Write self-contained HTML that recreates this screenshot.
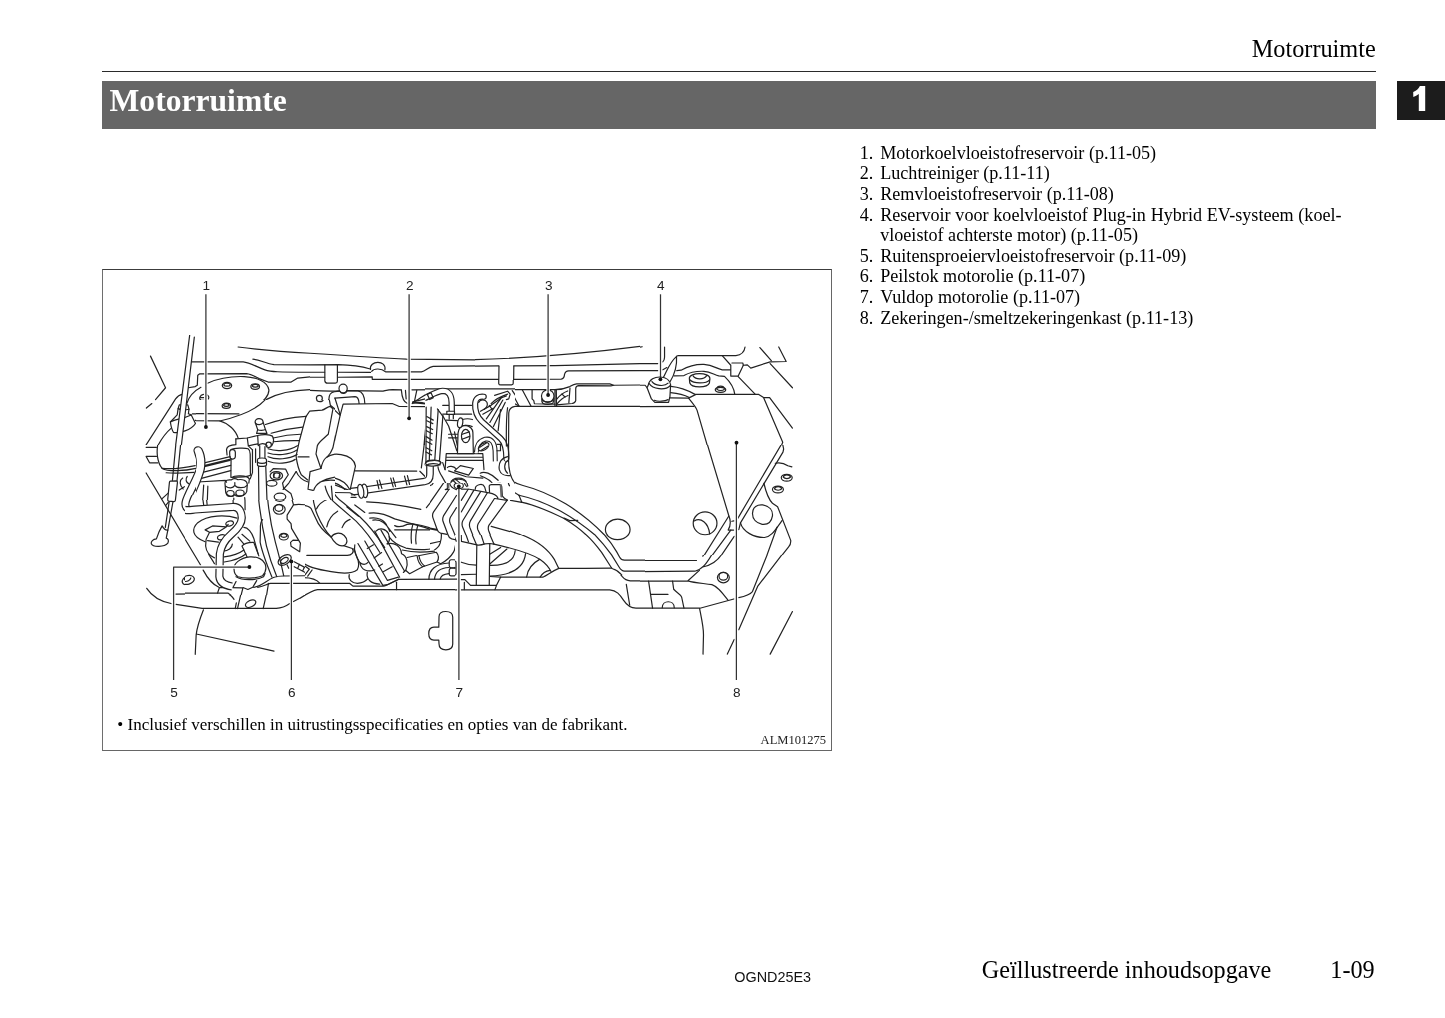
<!DOCTYPE html>
<html lang="nl">
<head>
<meta charset="utf-8">
<title>Motorruimte</title>
<style>
html,body{margin:0;padding:0;background:#fff;}
body{will-change:transform;width:1445px;height:1018px;position:relative;overflow:hidden;font-family:"Liberation Serif",serif;color:#000;}
.abs{position:absolute;white-space:nowrap;line-height:1;}
#hdr{right:69.2px;top:36.6px;font-size:24.3px;}
#rule{left:102px;top:70.7px;width:1274px;height:1.3px;background:#2a2a2a;}
#bar{left:102px;top:81px;width:1274px;height:48px;background:#666;}
#title{left:109.5px;top:85.3px;font-size:31.62px;font-weight:bold;color:#fff;}
#tab{left:1396.6px;top:81.1px;width:48.4px;height:39.1px;background:#1c1c1c;}
#tabn{left:1409.5px;top:82.2px;font-family:"Liberation Sans",sans-serif;font-weight:bold;font-size:34px;color:#fff;}
.li{font-size:18.13px;left:859.8px;}
.li .n{display:inline-block;width:20.4px;box-sizing:border-box;}
#fig{left:102px;top:268.85px;width:730px;height:482.35px;box-sizing:border-box;border-style:solid;border-color:#3c3c3c #666 #666 #6e6e6e;border-width:1.35px 1.35px 1.4px 1.8px;}
.cn{font-family:"Liberation Sans",sans-serif;font-size:12.6px;color:#222;}
#note{left:117.3px;top:715.9px;font-size:17px;}
#alm{left:760.6px;top:734.3px;font-size:12.55px;color:#222;}
#code{left:734.3px;top:970.2px;font-family:"Liberation Sans",sans-serif;font-size:14.4px;color:#111;}
#ft1{left:981.8px;top:958.1px;font-size:24.2px;}
#ft2{left:1330.3px;top:958.1px;font-size:24.2px;}
#art{position:absolute;left:0;top:0;}
</style>
</head>
<body>
<div class="abs" id="hdr">Motorruimte</div>
<div class="abs" id="rule"></div>
<div class="abs" id="bar"></div>
<div class="abs" id="title">Motorruimte</div>
<div class="abs" id="tab"></div>
<svg class="abs" style="left:1397px;top:81px" width="48" height="39" viewBox="1397 81 48 39"><path d="M1425.2,86 L1425.2,110.9 L1418.8,110.9 L1418.8,94.1 C1417,95.3 1415.3,96.3 1413.3,97 L1413.2,92.1 C1416,90.9 1418.6,88.8 1419.9,86 Z" fill="#fff"/></svg>

<div class="abs li" style="top:143.7px"><span class="n">1.</span>Motorkoelvloeistofreservoir (p.11-05)</div>
<div class="abs li" style="top:164.3px"><span class="n">2.</span>Luchtreiniger (p.11-11)</div>
<div class="abs li" style="top:184.9px"><span class="n">3.</span>Remvloeistofreservoir (p.11-08)</div>
<div class="abs li" style="top:205.6px;width:481.8px;"><span class="n">4.</span><span style="display:inline-block;width:461.4px;text-align:justify;text-align-last:justify;white-space:normal;">Reservoir voor koelvloeistof Plug-in Hybrid EV-systeem (koel-</span></div>
<div class="abs li" style="top:226.2px"><span class="n"></span>vloeistof achterste motor) (p.11-05)</div>
<div class="abs li" style="top:246.8px"><span class="n">5.</span>Ruitensproeiervloeistofreservoir (p.11-09)</div>
<div class="abs li" style="top:267.4px"><span class="n">6.</span>Peilstok motorolie (p.11-07)</div>
<div class="abs li" style="top:288.0px"><span class="n">7.</span>Vuldop motorolie (p.11-07)</div>
<div class="abs li" style="top:308.7px"><span class="n">8.</span>Zekeringen-/smeltzekeringenkast (p.11-13)</div>

<div class="abs" id="fig"></div>
<svg id="art" width="1445" height="1018" viewBox="0 0 1445 1018">
<style>#art path,#art ellipse,#art circle,#art line,#art polyline,#art rect{fill:none;stroke:#222;stroke-width:1.2px;vector-effect:non-scaling-stroke;stroke-linecap:round;stroke-linejoin:round}#art .w{fill:#fff}#art .k{fill:#111;stroke:none}#art .ld{stroke:#333;stroke-width:1.25px;stroke-linecap:butt}#art .halo line,#art .halo polyline{stroke:#fff;stroke-width:3.4px;stroke-linecap:butt}</style>
<svg x="145" y="335" width="165" height="110" viewBox="0 0 1445 963.33" overflow="hidden">
<!-- hood edge + cowl lines -->
<path d="M815,105 C1000,130 1250,150 1445,160"/>
<path d="M410,235 L860,235 C920,240 980,282 1050,305 C1100,322 1160,326 1445,326"/>
<path d="M945,212 C1000,215 1060,250 1130,260 L1445,262"/>
<path d="M378,462 L440,452 L458,440 L462,352 L480,340 L890,338 C930,342 960,362 1000,382 L1078,412 L1280,412 L1338,377 L1445,367"/>
<!-- plate ellipse -->
<path d="M548,422 C640,380 760,360 870,364 C980,370 1075,410 1085,480 C1088,540 1020,600 930,655 C860,695 760,725 650,752"/>
<path d="M490,458 C430,490 385,540 366,600"/>
<path d="M1445,478 C1300,482 1170,505 1060,566"/>
<path d="M415,690 L820,690 L880,680"/>
<path d="M440,748 L650,752 C720,772 795,830 812,905"/>
<!-- bolts -->
<ellipse cx="718" cy="442" rx="41" ry="27"/><path d="M690,438 C692,415 745,415 747,438 C740,452 697,452 690,438"/>
<ellipse cx="965" cy="452" rx="38" ry="25"/><path d="M940,448 C942,428 990,428 992,448 C985,460 947,460 940,448"/>
<ellipse cx="712" cy="620" rx="38" ry="25"/><path d="M686,616 C688,596 737,596 739,616 C732,628 693,628 686,616"/>
<path d="M512,520 C480,525 470,560 490,572 L520,572 M545,525 C560,535 562,550 555,560 M490,548 L515,548"/>
<!-- left "<" -->
<path d="M48,185 L180,462 L92,566"/><path d="M60,600 L12,640"/>
<!-- fender lines -->
<path d="M5,970 L268,560 C285,535 310,522 330,518"/>
<path d="M112,970 C150,900 190,850 228,818"/>
<!-- rod holder cup -->
<path class="w" d="M222,762 C228,800 236,835 250,852 C300,862 405,835 442,775 L405,700 L380,690 L385,650 L375,612 L300,612 L290,645 L282,700 Z"/>
<path d="M222,762 C260,740 330,735 405,700"/>
<path d="M290,645 C310,655 360,655 385,650"/>
<!-- prop rod -->
<path class="w" d="M392,-5 L432,15 L318,970 L268,970 Z" style="stroke:none"/>
<path d="M392,-5 L268,970"/><path d="M432,18 L318,970"/>
<!-- hose fitting -->
<path d="M1052,790 C1150,742 1300,716 1405,712"/>
<path d="M1090,862 C1200,822 1300,806 1385,800"/>
<path d="M1120,922 C1200,892 1300,876 1370,870"/>
<path d="M1140,962 C1200,946 1300,936 1352,932"/>
<path class="w" d="M968,760 C960,720 1030,715 1035,755 L1040,815 L1062,830 L1066,870 L975,880 L972,845 L985,830 Z"/>
<path d="M970,770 C985,790 1025,788 1036,765"/>
<path d="M985,830 C1000,840 1040,838 1062,830"/>
<path d="M1445,662 L1425,682 L1335,970"/>
<path d="M805,907 L900,893 L975,880 M1066,870 L1110,872 L1150,963 M900,893 L905,970 M985,900 L985,970 M985,900 L1100,890"/>
<path d="M740,963 L790,930 L812,905"/>
</svg>
<svg x="310" y="335" width="165" height="110" viewBox="0 0 1445 963.33" overflow="hidden">
<path d="M0,160 C300,180 600,200 845,212 L1445,218"/>
<path d="M0,262 L250,260 C350,262 450,275 528,298"/>
<path d="M530,302 C515,222 672,215 656,305"/>
<path d="M540,318 C560,290 625,290 662,323 L975,323 C1020,312 1030,282 1078,275 L1445,270"/>
<path d="M0,326 L128,326 M242,326 L530,328"/>
<path d="M0,370 L128,370 M242,370 L545,366 L545,388 L1445,388"/>
<path d="M130,262 L130,402 C132,418 140,422 152,422 L222,422 C235,420 240,415 240,402 L240,262"/>
<!-- line under cowl -->
<path d="M0,485 C100,492 180,495 258,490 M328,488 L640,492 C670,485 690,478 720,478 L800,481"/>
<path d="M800,483 C805,540 815,585 850,598 M836,485 L842,560"/>
<path d="M893,480 L1445,476"/>
<path d="M935,485 L915,582"/>
<circle cx="82" cy="555" r="26"/>
<!-- knob -->
<ellipse class="w" cx="290" cy="468" rx="36" ry="38"/>
<path d="M262,492 C275,520 315,520 325,485"/>
<!-- bracket -->
<path d="M165,565 C165,520 185,500 215,497 L258,492 M326,490 L420,490 C455,495 478,530 480,600"/>
<path d="M218,552 L395,540 C420,542 428,560 430,600"/>
<path d="M165,565 L178,622 L262,702 M218,552 L265,700"/>
<!-- air box top -->
<path d="M205,970 L265,700 L290,606 L720,600 L782,626 L1030,628 L998,970"/>
<path d="M0,665 C60,665 110,655 150,632 L185,625"/>
<path d="M205,645 L160,860 C150,900 110,935 68,965"/>
<!-- hose inverted U -->
<path class="w" d="M898,592 C960,560 1030,500 1100,480 C1180,455 1245,480 1262,560 L1268,665 L1216,665 L1205,575 C1195,520 1160,510 1120,520 C1080,540 1050,580 1032,605 Z"/>
<path d="M1020,520 L1042,562 L1085,540 L1060,500 Z"/>
<path d="M900,585 L1010,560"/>
<path d="M895,600 C950,580 1000,585 1060,622"/>
<!-- ribs of air box side -->
<path d="M1035,640 L1002,970 M1078,632 L1052,970 M1108,530 L1108,970 M1150,640 L1150,970 M1175,610 L1175,640"/>
<path d="M1035,700 L1078,722 M1032,735 L1075,757 M1025,800 L1068,822 M1022,835 L1064,857 M1015,895 L1058,917 M1012,930 L1054,952"/>
<path d="M1130,640 L1445,620 M1270,640 L1445,640"/>
<!-- clamp -->
<path d="M1195,668 L1275,664 L1275,690 L1195,694 Z"/>
<path d="M1216,694 L1216,740 M1255,692 L1258,735"/>
<!-- right fittings -->
<path d="M1130,640 C1180,720 1230,800 1260,880 L1290,963"/>
<path d="M1195,740 L1290,735 L1300,790 M1195,740 L1215,800"/>
<path d="M1300,790 C1290,730 1330,715 1345,730 L1340,790"/>
<path d="M1345,745 L1445,748"/>
<ellipse cx="1370" cy="880" rx="58" ry="85" transform="rotate(8 1370 880)"/>
<ellipse cx="1365" cy="885" rx="35" ry="60" transform="rotate(8 1365 885)"/>
<path d="M1335,870 L1395,835 M1335,910 L1395,878"/>
<path d="M1300,800 C1290,850 1290,900 1300,963 M1215,870 L1290,870 M1215,900 L1285,900 M1215,800 L1235,963"/>
<path d="M1445,540 C1420,560 1415,640 1445,660"/>
<path d="M1445,715 C1430,720 1428,740 1445,745"/>
</svg>
<svg x="475" y="335" width="165" height="110" viewBox="0 0 1445 963.33" overflow="hidden">
<path d="M0,215 C400,205 900,170 1445,100"/>
<path d="M0,272 L208,271 M340,271 L700,268 L1445,250"/>
<path d="M0,388 L206,388 M340,388 L755,386 C778,384 782,372 784,345 C790,322 800,315 820,314 L1445,312"/>
<path d="M210,272 L208,418 C210,432 216,438 228,438 L318,438 C332,436 338,430 338,418 L340,272"/>
<path d="M0,478 L700,478 C760,478 800,465 830,452 C850,440 865,430 890,428 L1180,428 L1215,440 L1190,446 L905,443 C888,446 882,455 882,470 L882,575 C878,592 865,598 850,600 L712,612"/>
<path d="M1215,440 L1445,438"/>
<path d="M832,465 L822,592"/>
<!-- big cover -->
<path d="M298,970 L295,672 C298,640 315,626 345,625 L1445,625"/>
<path d="M283,650 L288,970"/>
<!-- brake reservoir -->
<path d="M500,480 L500,560 L515,575 L520,602 L700,606"/>
<path d="M700,480 L700,622 M712,480 L714,622"/>
<circle cx="637" cy="535" r="55"/>
<path d="M585,560 C580,600 600,608 640,608 C680,608 695,595 690,555"/>
<path d="M592,575 C610,590 670,590 685,572"/>
<path d="M310,480 L385,622 M415,482 L490,622"/>
<path d="M716,562 C740,530 770,505 812,490 M720,602 C745,570 775,545 815,530 M760,515 L790,545"/>
<!-- left wiring cluster -->
<path d="M12,535 C10,520 20,514 35,514 L70,514 C82,518 82,535 70,542 L40,548 C28,552 24,560 25,575 C22,630 32,680 60,710 L215,862 L292,935"/>
<path d="M0,765 L190,965"/>
<path d="M60,575 C90,560 110,585 100,620 L45,665"/>
<path d="M175,535 C170,520 180,512 200,508 L285,493 C300,495 305,505 305,520 L308,545 L290,562"/>
<path d="M200,535 L270,515 M215,560 L285,530 M130,605 L240,545 M150,628 L255,565"/>
<path d="M60,665 L150,610 M75,690 L165,632 M100,715 L135,690"/>
<path d="M120,745 L235,565 M150,780 L252,585 M180,815 L268,600 M215,862 L232,640"/>
<path d="M255,640 C240,680 260,720 285,740"/>
<path d="M245,590 L345,600 L385,622"/>
<path d="M0,855 C40,850 70,870 100,900 M0,905 C30,900 60,915 80,945"/>
<path d="M30,965 C60,920 120,900 160,925 L185,965"/>
<path d="M85,940 L120,935 M100,920 L105,963"/>
</svg>
<svg x="640" y="335" width="165" height="110" viewBox="0 0 1445 963.33" overflow="hidden">
<path d="M0,106 L20,103"/>
<path d="M215,105 L215,195 C214,215 210,228 200,235"/>
<path d="M0,250 L155,250 M0,312 L155,312"/>
<path d="M200,380 C232,330 250,250 320,187 C325,260 300,350 262,412"/>
<path d="M200,305 L235,285"/>
<path d="M320,186 L335,180 L840,180 C890,175 915,140 920,105"/>
<path d="M720,180 L795,265 L795,360 L860,360 L905,265 L940,262 L970,290 L1140,235 L1280,232 L1215,105"/>
<path d="M805,245 L900,245 L905,265"/>
<path d="M1050,110 L1150,225 M1140,250 L1335,462"/>
<path d="M322,312 L360,308 C420,275 480,255 560,258 C640,262 680,300 720,305 L792,305"/>
<path d="M300,358 L385,355 C430,330 480,315 560,318 C620,322 650,350 690,358 L740,362 C790,410 825,470 830,520"/>
<!-- mount cylinder -->
<path class="w" d="M432,380 C432,325 610,325 612,380 L608,420 C590,465 450,465 436,420 Z"/>
<path d="M436,392 C470,428 580,428 610,392"/>
<path d="M465,358 C490,395 560,392 584,356"/>
<!-- bolt -->
<ellipse cx="705" cy="480" rx="46" ry="22"/>
<path d="M672,474 C675,440 735,440 740,474 C725,490 690,490 672,474"/>
<!-- reservoir cap 4 -->
<path d="M0,440 L45,440 L62,462"/>
<path class="w" d="M72,440 C80,390 130,365 180,368 C230,372 262,400 268,435 L262,540 L250,590 L130,590 L100,560 L62,462 Z"/>
<path d="M80,425 C110,475 220,490 266,442"/>
<path d="M105,408 C130,445 215,455 246,422"/>
<path d="M125,572 C160,586 220,580 246,566"/>
<path d="M270,450 C330,455 420,485 482,520"/>
<path d="M268,505 C330,510 390,525 432,548"/>
<path d="M262,550 L425,553"/>
<!-- fuse box -->
<path d="M0,628 L470,625"/>
<path d="M590,970 L500,660 C490,630 460,595 425,553 L490,520 L1040,520 L1082,548 L1250,940 L1238,970"/>
<path d="M1085,548 L1135,548 L1335,815"/>
<path d="M860,365 L1010,520"/>
</svg>
<svg x="145" y="445" width="165" height="110" viewBox="0 0 1445 963.33" overflow="hidden">
<!-- fender diagonal -->
<path d="M10,245 L440,970"/>
<path d="M150,470 L215,410 M180,530 L205,500"/>
<!-- reservoir bottom + bracket -->
<path d="M10,20 L100,20 M10,100 L100,100 M10,100 L40,156 L112,156"/>
<path d="M112,-5 C100,60 105,150 150,205 C200,235 350,228 445,205"/>
<path d="M150,205 C250,212 350,200 440,180"/>
<path d="M185,243 C260,250 350,245 430,240"/>
<!-- diagonal bracket lines behind -->
<path d="M520,172 L742,108 M490,300 L750,222 M505,258 L745,192"/>
<path d="M520,205 L745,140" style="stroke-width:2.2px"/>
<path d="M400,330 C500,300 600,295 705,300 M430,402 C480,362 600,337 700,337"/>
<path d="M330,290 C300,310 300,350 335,385 M370,275 C350,300 360,330 385,340 M300,395 L345,365"/>
<path d="M520,370 L505,528 M560,365 C540,420 540,480 560,525 M770,450 L770,522 M880,440 L880,565"/>
<!-- pump body lower -->
<path d="M800,625 C650,610 500,640 430,720 C400,780 430,830 520,862"/>
<path d="M530,745 L600,710 L700,715 L740,690 M530,745 L560,772 L660,760 L700,715 M560,772 L545,830 L530,900 L560,965 M660,760 L720,800"/>
<ellipse cx="742" cy="688" rx="38" ry="22" transform="rotate(-20 742 688)"/>
<ellipse cx="668" cy="800" rx="38" ry="22" transform="rotate(-25 668 800)"/>
<path d="M540,860 C560,900 600,930 640,940 M700,930 C740,920 760,890 750,860"/>
<path d="M860,730 C900,720 940,760 950,830 M820,800 L900,880 M850,770 L940,850 M850,890 L940,840 L1000,965 M850,890 L880,965 M760,965 L860,930"/>
<!-- S hose -->
<path d="M462,48 C480,90 490,130 488,190 C480,260 370,440 358,500 C350,540 365,562 420,562 L770,560 C820,560 845,590 845,650 C845,720 780,780 720,840 C680,880 660,920 655,970" style="stroke-width:8.6px;stroke-linecap:round"/>
<path d="M462,48 C480,90 490,130 488,190 C480,260 370,440 358,500 C350,540 365,562 420,562 L770,560 C820,560 845,590 845,650 C845,720 780,780 720,840 C680,880 660,920 655,980" style="stroke:#fff;stroke-width:6.2px;stroke-linecap:round"/>
<!-- cylinder component -->
<path class="w" d="M748,70 C748,40 765,30 790,30 L890,30 C915,32 928,45 928,70 L925,270 C900,290 790,290 760,268 Z"/>
<path class="w" d="M738,60 C738,42 748,38 765,38 C782,38 790,45 790,60 L790,105 C788,120 780,124 765,124 C748,124 740,118 738,105 Z"/>
<path d="M760,268 C740,275 722,290 720,300 M925,270 C935,290 925,310 905,325"/>
<path class="w" d="M700,335 C700,310 730,300 760,305 C780,295 800,295 820,305 C860,298 900,310 900,345 L895,400 C880,445 800,455 780,430 C760,455 710,445 705,410 Z"/>
<path d="M705,360 C740,385 770,380 790,355 C810,380 870,385 898,355 M790,330 L790,355"/>
<ellipse cx="745" cy="420" rx="36" ry="28"/><ellipse cx="838" cy="415" rx="40" ry="28"/>
<path d="M935,40 L935,250 M960,30 L962,150"/>
<!-- vertical hose right -->
<path d="M1022,-5 L1022,300 C1025,450 1045,640 1080,780 C1095,850 1120,920 1140,975" style="stroke-width:9.4px;stroke-linecap:butt"/>
<path d="M1022,-8 L1022,300 C1025,450 1045,640 1080,780 C1095,850 1120,920 1140,985" style="stroke:#fff;stroke-width:7px;stroke-linecap:butt"/>
<path class="w" d="M980,125 C985,108 1060,108 1066,125 L1066,180 C1060,195 985,195 980,180 Z"/>
<path d="M980,150 C995,165 1050,165 1066,150"/>
<path d="M1000,660 C1005,760 1015,870 1030,965"/>
<!-- upper right arcs -->
<path d="M1075,45 C1150,75 1280,65 1340,18 M1070,88 C1150,118 1280,108 1332,60 M1082,132 C1150,152 1250,142 1312,100"/>
<path d="M1340,100 L1445,100"/>
<path d="M1320,120 C1340,180 1340,225 1290,285 L1215,392 M1350,200 C1370,260 1400,310 1445,322 M1445,232 L1420,250 L1420,392 L1445,396"/>
<!-- bracket with holes -->
<path d="M1075,255 C1080,230 1095,215 1120,215 L1230,215 L1250,262 L1200,350 L1212,400 L1280,450 L1300,560 L1288,700 L1350,860 L1375,970"/>
<path d="M1240,600 C1240,660 1270,690 1290,700 M1300,830 L1280,850 L1310,900 L1360,900"/>
<ellipse cx="1150" cy="268" rx="55" ry="38"/><circle cx="1150" cy="268" r="24"/>
<path d="M1130,285 L1128,250 M1170,285 L1172,250"/>
<ellipse cx="1112" cy="342" rx="46" ry="28"/>
<ellipse cx="1180" cy="456" rx="46" ry="31"/>
<ellipse cx="1176" cy="562" rx="50" ry="44"/><ellipse cx="1172" cy="552" rx="34" ry="30"/>
<ellipse cx="1212" cy="798" rx="38" ry="34"/><ellipse cx="1210" cy="790" rx="24" ry="22"/>
<path d="M1200,955 C1230,940 1260,945 1280,965"/>
<path d="M1300,562 C1330,530 1400,520 1445,526"/>
<!-- prop rod -->
<path d="M270,-5 L240,312 M312,-5 L280,315"/>
<path class="w" d="M222,316 L275,314 C284,316 285,322 284,330 L266,485 C264,494 258,497 250,496 L208,492 C200,490 198,484 199,476 L214,326 C215,320 217,317 222,316 Z"/>
<path d="M212,495 L178,722 M245,497 L200,745"/>
<path class="w" d="M150,708 C130,740 110,790 100,822 C70,825 50,845 55,865 C70,898 170,895 200,860 C212,835 200,820 186,816 L200,745 C180,750 165,735 150,708 Z"/>
</svg>
<svg x="310" y="445" width="165" height="110" viewBox="0 0 1445 963.33" overflow="hidden">
<!-- air box bottom -->
<path d="M0,232 L95,232 M395,226 L935,228 M1000,-5 L985,120 L975,200"/>
<path d="M962,230 L1010,278" />
<path d="M60,-5 C45,40 45,90 60,130 L100,232 M205,-5 C195,40 175,70 150,92"/>
<!-- intake elbow -->
<path class="w" d="M130,112 C170,60 380,65 398,185 L350,400 L85,300 Z"/>
<path d="M85,300 C150,262 290,285 345,385 M76,338 C150,300 270,325 332,425"/>
<path d="M85,300 C40,340 15,420 25,520 C35,620 90,730 190,812"/>
<path d="M150,470 C110,490 70,540 45,592 M235,560 C190,600 160,660 150,716 M345,655 C300,690 270,750 262,802"/>
<path d="M140,362 C140,420 180,470 260,530 L420,640 C520,720 620,830 700,970"/>
<path d="M200,365 C200,420 240,450 320,510 L470,610 C570,690 680,800 770,970"/>
<path d="M205,435 L345,410 M320,545 L500,520 M320,545 L440,600"/>
<path d="M190,812 C220,760 290,770 320,822 C335,862 300,892 268,886 Z"/>
<path d="M190,812 L100,750 M268,886 L350,925 L300,965"/>
<path d="M400,872 L470,968 M440,852 L520,965 M480,840 L570,950 M390,900 L420,965"/>
<path d="M0,400 L25,400 M0,545 L25,545"/>
<!-- top clamp + pipes -->
<path d="M1040,-5 L1040,135 M1085,-5 L1085,125 M1110,-5 L1110,130 M1140,-5 L1140,145 M1190,-5 L1190,185"/>
<path d="M1015,30 L1070,55 L1040,70"/>
<ellipse class="w" cx="1078" cy="168" rx="70" ry="38"/>
<path d="M1015,185 C1040,165 1110,165 1140,185"/>
<path d="M1190,75 L1445,75 M1190,125 L1445,125 M1280,-5 L1290,75 M1435,-5 L1445,40"/>
<path d="M1205,200 C1215,180 1250,185 1265,200 M1205,205 C1230,240 1300,260 1380,262 L1430,202 L1330,176 L1280,192 L1265,235"/>
<path d="M1230,265 C1300,290 1380,295 1445,290"/>
<!-- big hose right of elbow -->
<path d="M1082,232 C1150,240 1190,290 1160,360 C1130,430 1070,500 1022,552"/>
<path d="M1140,230 C1190,250 1215,300 1205,390"/>
<path d="M535,495 C650,490 850,540 970,566"/>
<path d="M520,602 C560,585 640,590 720,615 L1000,700 L1110,746"/>
<!-- bellows -->
<path d="M1190,392 L1445,400"/>
<path d="M1195,395 L1080,590 C1070,620 1080,640 1090,672 L1130,772"/>
<path d="M1285,400 L1165,600 L1160,640 L1215,802"/>
<path d="M1290,520 L1235,620 L1232,660 L1290,832"/>
<path d="M1380,402 L1325,490 M1445,480 L1340,640 L1338,680 L1400,852"/>
<path d="M1445,575 L1405,650 L1445,800"/>
<path d="M1130,772 L1215,802 L1290,832 L1400,852 L1445,860"/>
<!-- oil filler cap -->
<ellipse cx="1300" cy="338" rx="72" ry="46"/>
<path d="M1240,320 C1260,290 1330,290 1365,318 M1255,305 L1300,350 M1275,295 L1325,340"/>
<!-- lower hose with band -->
<path d="M720,700 C750,715 790,718 830,692 L905,690 C1000,700 1080,730 1130,770 C1150,800 1150,840 1130,870 C1080,900 950,905 850,880 C790,860 730,830 700,795"/>
<path d="M905,700 C885,750 880,810 890,852 M945,700 C925,760 925,810 930,860"/>
<path d="M740,746 L1100,746"/>
<path d="M530,642 C620,630 680,680 720,750 L770,815 M560,665 C630,680 670,720 695,790"/>
<path d="M600,700 L640,730 M560,740 L700,735"/>
<path d="M700,795 C760,830 780,880 800,965 M1130,870 C1120,910 1100,940 1080,965 M1282,832 C1280,890 1260,930 1230,965"/>
<path d="M810,930 C900,950 1000,950 1080,930"/>
</svg>
<svg x="475" y="445" width="165" height="110" viewBox="0 0 1445 963.33" overflow="hidden">
<path d="M298,-5 L296,262 C305,310 340,335 420,355 C520,380 650,430 794,515 C900,580 1040,690 1134,788 L1200,860"/>
<path d="M285,-5 L285,262"/>
<path d="M385,440 C480,460 620,510 748,578 C850,635 970,720 1051,788 L1100,840"/>
<path d="M405,500 C500,520 650,580 776,641 C850,685 920,735 974,788 L1010,830"/>
<path d="M780,640 L830,662 L900,660"/>
<path d="M285,480 L410,502 L385,440"/>
<path d="M292,275 C285,350 320,410 385,440 M245,340 C235,400 250,450 285,480"/>
<ellipse cx="1250" cy="740" rx="108" ry="90"/>
<!-- bellows left -->
<path d="M0,400 L60,410 L180,435 L200,470 L285,480"/>
<path d="M0,585 L100,430 M20,690 L140,470 L180,440 M285,480 L120,715 L160,862 M20,690 L70,870 L0,882"/>
<path d="M145,715 C300,740 520,810 680,970"/>
<path d="M70,870 L160,862 C260,880 400,900 500,970"/>
<path d="M130,870 L135,970 M200,890 L140,950 M280,905 L240,970 M350,920 L350,970 M20,882 L20,970"/>
<!-- upper-left cluster -->
<path d="M130,-5 C135,80 145,150 180,200 M180,-5 L190,130 M215,-5 L215,100 M265,-5 L270,100"/>
<path d="M282,110 C230,120 205,160 212,225 C225,255 250,268 282,265 M285,130 C250,150 240,200 258,238"/>
<path d="M165,180 C160,230 180,280 230,330 L245,342"/>
<path d="M45,232 C100,230 150,260 200,320 M40,265 C90,275 130,300 150,330 M45,232 C30,240 30,258 40,265"/>
<path d="M125,345 L215,340 L220,455 M125,345 L130,425"/>
<path d="M0,90 L70,90 L75,220 L0,216 M0,330 L75,330 M75,220 L80,400 M100,330 L105,400"/>
<path d="M10,385 C15,345 65,345 72,385"/>
<path d="M25,30 C30,62 60,62 100,18 M40,45 L85,5 M60,55 L110,10"/>
</svg>
<svg x="640" y="445" width="165" height="110" viewBox="0 0 1445 963.33" overflow="hidden">
<path d="M590,-5 L778,620 C795,660 798,700 772,745 L820,745"/>
<path d="M778,622 L560,970 M795,745 L630,970 M825,800 L710,970"/>
<path d="M805,668 L822,665"/>
<path d="M1238,-5 L858,640"/>
<path d="M1250,-5 L1258,35 L1252,62 L880,682 L865,742"/>
<ellipse cx="570" cy="686" rx="104" ry="100"/>
<path d="M475,665 C530,630 600,680 610,778"/>
<path d="M1085,335 C1100,400 1120,470 1160,510 L1205,540 L1320,835 C1322,860 1315,880 1300,895 L1240,970"/>
<path d="M985,600 C985,540 1030,520 1075,525 C1130,535 1165,570 1160,620 C1150,680 1120,700 1070,695 C1020,685 985,650 985,600 Z"/>
<path d="M880,682 C900,760 1000,812 1090,810 C1150,805 1180,750 1245,660"/>
<path d="M1200,720 L1110,970"/>
<path d="M1185,160 C1230,150 1270,165 1295,182 L1330,192"/>
<ellipse cx="1285" cy="287" rx="48" ry="30"/><path d="M1255,282 C1258,255 1315,255 1318,282 C1305,298 1268,298 1255,282"/>
<ellipse cx="1208" cy="390" rx="48" ry="30"/><path d="M1178,385 C1181,358 1238,358 1241,385 C1228,400 1191,400 1178,385"/>
</svg>
<svg x="145" y="555" width="165" height="110" viewBox="0 0 1445 963.33" overflow="hidden">
<path d="M438,-5 C500,110 560,220 650,290"/>
<path d="M620,-5 L618,180 C625,240 660,270 770,280 M688,-5 L690,180 C695,215 730,240 790,246"/>
<path d="M700,20 C760,20 820,10 850,-5 M700,55 C770,50 830,30 880,-5 M560,-5 L600,25"/>
<!-- cap 5 -->
<path class="w" d="M790,70 C800,45 880,20 940,15 C1000,15 1050,50 1055,95 C1060,140 1040,175 990,200 C930,220 850,215 815,198 C780,170 775,110 790,70 Z"/>
<path d="M800,190 C840,235 960,235 1030,200 L1050,170 M800,232 L770,282 M980,232 L940,290 L905,300 L860,286"/>
<path d="M1040,150 L1060,130 L1050,110"/>
<!-- bolt left -->
<ellipse cx="380" cy="222" rx="56" ry="38" transform="rotate(-20 380 222)"/>
<path d="M345,215 C340,185 395,165 410,195 C410,225 360,240 345,215"/>
<!-- upper right -->
<path d="M1040,-5 L1110,182 M1110,-5 L1212,182 M1160,30 L1180,85"/>
<ellipse cx="1225" cy="52" rx="42" ry="28" transform="rotate(-25 1225 52)"/>
<ellipse cx="1222" cy="52" rx="24" ry="15" transform="rotate(-25 1222 52)"/>
<path d="M1240,85 L1262,100"/>
<path d="M1310,58 L1445,128 M1330,100 L1445,165 M1350,72 L1335,100 M1420,112 L1400,148"/>
<path d="M1380,-5 C1385,30 1410,50 1445,55"/>
<!-- panel lines -->
<path d="M960,282 C1020,270 1080,215 1160,190 L1445,188"/>
<path d="M1000,282 C1040,275 1060,245 1100,242 L1445,245"/>
<path d="M270,342 L715,336 C745,345 765,365 780,388 M640,338 L655,290 L850,290"/>
<path d="M850,296 L810,470 M1085,246 L1035,470 M800,420 L790,470"/>
<ellipse cx="925" cy="426" rx="48" ry="28" transform="rotate(-25 925 426)"/>
<!-- bumper curve -->
<path d="M15,292 C60,360 130,405 228,425 M272,432 L500,468 L1150,468 C1200,465 1240,445 1268,425 M1300,408 L1445,332"/>
<path d="M512,480 C480,560 455,640 448,700 L440,870 M450,692 L1130,842"/>
</svg>
<svg x="310" y="555" width="165" height="110" viewBox="0 0 1445 963.33" overflow="hidden">
<path d="M0,2 L340,2" style="stroke-width:2.2px"/>
<path d="M0,246 L335,246 L372,270 L640,270 C680,268 720,235 775,214 L1282,212"/>
<path d="M0,330 C25,312 45,306 75,305 L1445,305"/>
<path d="M757,240 L757,305"/>
<path d="M0,122 C100,125 200,155 330,160 C380,158 410,140 425,120 M0,195 C40,195 75,215 85,246"/>
<path d="M345,180 C340,220 380,250 420,250 C460,245 490,230 500,215 M500,150 C490,200 520,250 560,262 M425,120 C440,90 430,70 430,60 M410,-5 C410,30 420,50 430,60 C450,60 475,50 490,40"/>
<path d="M495,-5 L650,270 M570,-5 L690,220 M690,-5 L810,145 M750,-5 L830,150 M600,90 L700,45 M640,135 L730,100 M690,220 L775,180 M650,270 L700,245"/>
<path d="M850,20 C875,60 870,100 830,140 L900,165 L925,212 M860,150 L980,100 L950,20 M940,30 L980,95 L1120,50 L1130,-5"/>
<path d="M1130,-5 C1180,10 1230,5 1245,-5"/>
<!-- elbows -->
<path d="M1040,212 C1040,130 1100,75 1215,70 M1090,212 C1092,150 1140,112 1215,110 M1132,212 C1135,180 1165,165 1215,165"/>
<path d="M1228,40 L1258,40 C1268,42 1272,48 1272,58 L1272,95 C1270,106 1264,110 1256,110 L1228,110 C1218,108 1215,102 1215,95 L1215,58 C1216,46 1220,42 1228,40 Z"/>
<path d="M1228,114 L1258,114 C1268,116 1272,122 1272,132 L1272,168 C1270,180 1264,185 1256,185 L1228,185 C1218,183 1215,176 1215,168 L1215,132 C1216,120 1220,116 1228,114 Z"/>
<path d="M1325,60 C1360,75 1400,80 1445,80 M1325,175 L1445,166 M1350,230 L1350,305 M1350,236 L1380,236 L1410,266 L1445,266"/>
<!-- T slot -->
<path d="M1130,540 C1130,505 1150,495 1188,495 C1230,495 1250,510 1250,545 L1250,780 C1250,815 1230,830 1190,830 C1150,830 1130,815 1130,780 L1128,745 L1085,745 C1055,745 1040,720 1040,690 C1040,655 1055,632 1085,632 L1128,632 Z"/>
</svg>
<svg x="475" y="555" width="165" height="110" viewBox="0 0 1445 963.33" overflow="hidden">
<path d="M0,306 L1180,305 C1240,308 1270,350 1300,395 C1330,440 1360,465 1410,465 L1445,465"/>
<path d="M0,268 L180,268"/>
<path d="M170,305 L218,200 C222,196 228,195 235,195 L595,195 C640,180 680,130 750,120 L1200,120 C1240,125 1260,150 1290,190 C1310,215 1330,225 1360,226 L1445,226"/>
<path d="M15,-5 L15,268 M125,-5 L125,268 M0,75 L15,75 M0,170 L15,170"/>
<path d="M130,82 C170,50 200,20 225,-5 M130,95 C250,95 340,80 350,-5 M130,185 C300,180 430,150 440,-5 M450,195 C460,120 500,70 560,40 M570,195 C590,160 620,140 660,130 M500,-5 C600,30 650,80 665,150 M680,-5 C700,30 720,70 735,118"/>
<path d="M1130,-5 L1195,115 M1190,-5 L1260,100 C1275,125 1290,140 1320,142 L1445,145 M1250,-5 C1265,30 1290,48 1330,48 L1445,48"/>
<path d="M1325,258 L1355,440"/>
</svg>
<svg x="640" y="555" width="165" height="110" viewBox="0 0 1445 963.33" overflow="hidden">
<path d="M0,48 L495,48 M0,145 L480,142 C540,130 580,80 630,-5 M550,105 C620,90 680,50 715,-5 M550,10 L560,-5"/>
<path d="M0,228 L420,226 C480,245 560,248 630,260 C680,275 720,330 770,395 M420,226 L520,135"/>
<path d="M0,466 L525,466 L822,385 M865,374 C920,362 960,350 985,320 L1115,-5"/>
<ellipse cx="730" cy="198" rx="52" ry="46"/><ellipse cx="730" cy="186" rx="38" ry="34"/>
<path d="M75,228 L110,465 M285,228 L295,300 C320,330 355,340 365,370 L385,465 M95,345 L245,345 M195,462 C195,392 300,392 300,462"/>
<path d="M522,470 C540,560 558,640 556,700 L552,868"/>
<path d="M1245,-5 L1030,275 L865,655 M825,740 L765,868 M1335,495 L1140,868"/>
</svg>
<svg x="300" y="490" width="180" height="120" viewBox="0 0 1445 963.33" overflow="hidden">
<rect x="-5" y="-5" width="1455" height="973" style="fill:#fff;stroke:none"/>
<!-- panel lines -->
<path d="M-5,750 L400,750 L425,772 L670,772 C700,770 730,745 790,718 L1255,716"/>
<path d="M-5,872 C60,830 100,805 140,800 L1450,800"/>
<path d="M775,740 L775,800"/>
<!-- left cover blob -->
<path d="M-5,125 C40,120 70,125 90,150 L130,235 C150,290 200,340 250,378"/>
<path d="M250,378 C270,345 320,335 355,365 C385,395 385,430 350,447 C310,455 270,420 250,378 Z"/>
<path d="M350,447 L420,470 C442,500 410,525 380,525 L55,525"/>
<path d="M-5,430 L5,480 L20,580 C60,620 150,640 250,655 C330,670 420,672 460,640 C482,600 470,560 450,520 L432,472"/>
<path d="M-5,590 C30,600 50,615 70,632 M40,682 L75,636 M62,692 L97,642 M-5,705 C60,700 130,712 160,750"/>
<path d="M395,680 C385,720 420,750 460,750 C500,748 530,730 545,712 M540,660 C530,720 570,752 640,756"/>
<!-- ribbed elbow -->
<path d="M105,-5 C100,60 110,130 140,200 C165,260 205,330 250,378"/>
<path d="M132,152 C150,112 190,86 226,72 M215,296 C225,245 260,195 302,170 M338,302 C350,270 375,245 402,236"/>
<!-- S pipe -->
<path d="M215,-5 C215,40 250,80 300,120 L450,250 C520,320 580,400 640,500"/>
<path d="M262,-5 C270,40 300,70 350,105 L480,215 C560,290 620,370 680,462"/>
<path d="M265,20 L400,22 L440,42 M375,135 L470,210 M440,120 L520,180 M410,60 L450,60"/>
<!-- ladder bracket -->
<path d="M465,430 L665,766 L700,760 L792,716"/>
<path d="M520,410 L702,726 L790,700"/>
<path d="M600,330 L800,700 M650,322 L840,652"/>
<path d="M595,545 L655,502 M632,612 L662,594 M668,656 L740,616 M540,470 L590,440"/>
<path d="M440,440 C430,480 450,540 480,582 C500,602 530,602 546,582 M480,582 C490,642 540,662 600,642"/>
<path d="M700,432 C760,420 810,450 815,512 C860,530 872,590 850,642 L830,662"/>
<path d="M610,330 C640,300 690,310 710,350 C725,390 715,420 700,432"/>
<!-- tube with clamp -->
<path d="M860,542 L935,526 M850,646 L880,672 L985,616"/>
<path d="M940,530 L1095,500 C1112,520 1116,552 1100,578 L985,616 C960,600 945,562 940,530 Z"/>
<path d="M955,528 C960,560 972,590 1000,610"/>
<!-- hoses -->
<path d="M535,95 C700,100 850,130 970,156"/>
<path d="M555,186 C620,175 700,200 760,232 L1000,300 L1092,332"/>
<path d="M560,226 C620,215 680,240 700,292 L770,382 M585,242 C650,232 700,272 720,332"/>
<path d="M760,286 C790,302 830,292 860,276 L905,272 C1000,285 1080,310 1125,350 C1142,390 1132,430 1110,456 C1060,482 950,486 850,466 C790,446 740,412 715,376"/>
<path d="M905,280 C890,330 890,380 895,426 M945,286 C930,340 925,390 932,432 M760,320 L1100,320"/>
<path d="M820,482 C900,502 1000,502 1080,490"/>
<path d="M1132,352 C1190,350 1240,378 1252,400 C1262,460 1230,540 1130,592 L1100,578"/>
<path d="M1255,400 L1258,240"/>
<!-- clamp top-left -->

<!-- bellows -->
<path d="M1130,-5 L1015,142"/>
<path d="M1195,-5 L1066,190 C1058,210 1066,230 1072,245 L1130,352"/>
<path d="M1262,28 L1150,202 L1150,240 L1200,380 L1252,400"/>
<path d="M1256,130 L1216,200 L1220,250 L1256,342"/>
<path d="M1340,-5 L1296,60 M1400,-5 L1296,150 M1450,15 L1300,200 L1300,240 L1340,400 L1450,432 M1450,125 L1370,222 L1375,262 L1420,422 M1450,235 L1430,270 L1450,332"/>
<!-- elbows -->
<path d="M1035,716 C1035,640 1090,590 1196,586 M1080,716 C1085,660 1120,625 1196,622 M1125,716 C1130,690 1150,676 1196,672"/>
<path d="M1212,560 L1240,560 C1250,562 1252,568 1252,576 L1252,610 C1250,620 1246,624 1238,624 L1212,624 C1202,622 1198,616 1198,608 L1198,576 C1200,564 1204,561 1212,560 Z"/>
<path d="M1212,627 L1240,627 C1250,629 1252,635 1252,643 L1252,676 C1250,686 1246,690 1238,690 L1212,690 C1202,688 1198,682 1198,674 L1198,643 C1200,631 1204,628 1212,627 Z"/>
<path d="M1296,592 C1340,600 1400,602 1450,600 M1296,682 L1450,670 M1320,740 L1320,800 M1320,742 L1350,745 L1372,770 L1450,770 M1420,450 L1420,770"/>
</svg>
<svg x="425" y="380" width="90" height="120" viewBox="0 0 763 1017.33" overflow="hidden">
<rect x="-5" y="-5" width="773" height="1027" style="fill:#fff;stroke:none"/>
<path d="M-5,75 L770,75"/>
<path d="M625,-5 L625,30 C627,40 633,42 642,42 L733,42 C743,40 748,36 748,28 L748,-5"/>
<!-- air box ribbed side -->
<path d="M10,230 L8,690 M52,230 L36,690 M112,250 L82,692 M152,300 L122,692"/>
<path d="M15,310 L70,340 M15,345 L66,370 M14,395 L65,420 M12,430 L62,455 M10,480 L60,510 M10,520 L58,545 M10,575 L58,600 M8,610 L55,635"/>
<path d="M105,245 C150,300 180,350 200,390 L270,600"/>
<path d="M150,215 L395,215 M150,290 L395,290 M180,340 L275,345 M200,460 L275,460 M200,490 L275,490"/>
<!-- inverted U hose -->
<path d="M-5,154 C40,135 90,100 150,92 C200,92 225,130 226,190 L227,268" style="stroke-width:6.4px;stroke-linecap:butt"/>
<path d="M-8,155 C40,135 90,100 150,92 C200,92 225,130 226,190 L227,272" style="stroke:#fff;stroke-width:4px;stroke-linecap:butt"/>
<path d="M20,122 L50,106 L70,150 L40,166 Z"/>
<path class="w" d="M185,265 L250,265 L250,292 L185,292 Z"/>
<path d="M205,292 L205,332 M240,292 L240,328"/>
<!-- bracket with oval -->
<path class="w" d="M275,625 L280,450 C285,410 310,385 342,385 C380,388 405,415 406,445 L410,625 Z"/>
<ellipse cx="345" cy="475" rx="36" ry="56"/>
<path d="M315,460 L376,440 M314,502 L378,478"/>
<ellipse class="w" cx="298" cy="362" rx="22" ry="42" transform="rotate(8 298 362)"/>
<path d="M318,335 C350,325 380,328 402,335 M318,388 C350,380 380,385 400,395"/>
<path d="M180,625 L490,625 M180,655 L490,655 M180,682 L495,682 M180,625 L170,760 M490,625 L500,760"/>
<path d="M250,440 L275,560"/>
<!-- wire bundle upper right -->
<path d="M590,130 L700,95 L722,120 L710,160 L690,166"/>
<path d="M560,200 C590,170 640,140 700,120 M470,265 L560,215 L650,150 M490,290 L580,240 M545,215 L570,250"/>
<path d="M520,330 L640,160 M550,360 L660,170 M580,395 L680,190 M620,430 L640,250 M650,150 L690,135"/>
<!-- S hose centre -->
<path d="M498,142 C460,138 430,150 425,200 C422,260 440,310 480,350 L640,495 C680,530 690,580 690,665" style="stroke-width:6.2px;stroke-linecap:round"/>
<path d="M498,142 C460,138 430,150 425,200 C422,260 440,310 480,350 L640,495 C680,530 690,580 690,672" style="stroke:#fff;stroke-width:3.8px;stroke-linecap:round"/>
<path d="M455,190 C470,162 510,162 525,188 C535,212 520,236 500,250"/>
<!-- second loop -->
<path d="M435,615 C435,560 460,515 510,502 C570,492 592,540 594,600 L596,690" style="stroke-width:5px;stroke-linecap:butt"/>
<path d="M435,620 C435,560 460,515 510,502 C570,492 592,540 594,600 L596,695" style="stroke:#fff;stroke-width:2.8px;stroke-linecap:butt"/>
<ellipse cx="497" cy="566" rx="50" ry="28" transform="rotate(-32 497 566)"/>
<path d="M465,570 L520,535 M478,595 L535,560 M610,545 L640,545 L640,600 L610,600"/>
<!-- cover corner -->
<path d="M770,222 C730,225 712,245 710,280 L708,650 C705,750 720,830 770,885"/>
<path d="M700,235 C690,300 688,400 690,560 M740,90 L770,135"/>
<path d="M700,650 C650,660 620,700 630,760 C640,800 680,815 720,810 M702,682 C670,700 665,760 700,790"/>
<!-- bottom -->
<path d="M190,742 C200,725 245,730 262,752 M250,770 L300,726 L410,750 L370,806 Z M200,770 L350,820 L490,832"/>
<ellipse cx="285" cy="872" rx="66" ry="40"/>
<path d="M235,850 L290,900 M255,838 L310,885 M225,862 C250,835 320,835 345,860"/>
<path d="M468,790 C500,770 560,790 620,850 M470,812 C520,830 560,850 580,890 M540,882 L640,876 L650,965 M545,882 L548,965 M430,922 C440,890 480,880 502,902"/>
<path d="M170,926 L640,962"/>
<path d="M150,926 L68,1025 M210,935 L138,1025 M290,942 L238,1025 M360,944 L308,1025 M420,952 L378,1025 M490,962 L438,1025 M560,976 L518,1025"/>
<path d="M5,700 C10,675 120,670 136,700 C130,732 20,736 5,700 Z"/>
<path d="M20,735 L20,830 L-5,882 M110,735 C115,800 170,830 195,926 M150,700 L170,760"/>
</svg>
<svg x="430" y="483" width="80" height="67" viewBox="0 0 1216 1018.40" overflow="hidden">
<rect x="-5" y="-5" width="1226" height="1028" style="fill:#fff;stroke:none"/>
<path d="M210,-5 L-5,305"/>
<path d="M290,95 L55,440 C35,470 35,500 45,530 L110,710 C120,740 135,755 160,762 L258,782"/>
<path d="M402,190 L205,500 C190,530 190,560 200,590 L275,790 C285,825 300,842 330,850 L402,866"/>
<path d="M402,375 L310,520 C295,550 295,580 305,610 L402,842"/>
<path d="M580,95 L475,265 M670,105 L475,440"/>
<path d="M770,132 L500,570 C485,600 485,640 495,670 L592,902"/>
<path d="M870,152 L612,580 C597,610 597,650 607,680 L702,925"/>
<path d="M980,236 L732,620 C718,650 718,680 728,710 L822,905"/>
<path d="M1172,264 L897,640 C882,668 884,700 892,725 L966,920"/>
<path d="M478,92 L600,95 L900,150 C960,160 1010,180 1032,228 M985,236 L1172,264"/>
<path d="M475,800 L480,880 L600,905 L700,935 C730,945 770,945 830,905 L966,920 L1225,992"/>
<path d="M930,660 L1225,742"/>
<path d="M690,95 C680,30 800,-10 830,60 L850,128"/>
<path d="M905,140 L900,45 C905,30 915,25 930,25 L1060,25 C1080,28 1088,38 1090,55 L1100,200 C1120,230 1140,245 1178,258"/>
<path d="M1075,30 L1085,205" style="stroke-width:2px;stroke:#666"/>
<path d="M265,-5 L265,88 L232,100 L290,95 M300,-5 C300,40 340,80 402,100"/>
<path d="M280,10 L280,70" style="stroke-width:2px;stroke:#666"/>
<path d="M-5,42 C25,35 45,20 50,-5"/>
<path d="M-5,690 L100,712" style="stroke-width:2px"/>
<path d="M172,772 C175,820 170,860 160,885 L-5,922 M160,885 C160,940 110,990 60,1025 M405,870 L370,1025"/>
<path d="M720,945 L715,1025 M920,920 L910,1025 M1000,1025 L1062,965 M1160,1025 L1225,995"/>
<path d="M1190,-5 L1200,30 L1225,52"/>
<path d="M520,-5 C530,20 540,40 560,55 M560,-5 C565,15 570,30 575,45"/>
<ellipse cx="437" cy="40" rx="70" ry="45"/>
</svg>
<svg x="185" y="495" width="120" height="100" viewBox="0 0 1222 1018.33" overflow="hidden">
<rect x="-5" y="-5" width="1232" height="1028" style="fill:#fff;stroke:none"/>
<!-- fender diagonal + bottom -->
<path d="M-5,440 L160,715 M185,765 C230,850 280,910 345,940 L580,945 M350,945 L330,1002 M-5,1000 L440,1000 L472,1025 M590,945 L570,1025 M850,900 L830,1025"/>
<path d="M700,940 C780,930 830,870 900,840 C930,828 960,825 1000,825 L1230,822"/>
<path d="M740,940 C800,935 830,905 870,900 L1230,900"/>
<ellipse cx="30" cy="865" rx="66" ry="44" transform="rotate(-15 30 865)"/>
<path d="M-5,880 C20,885 55,870 60,845"/>
<!-- pump blob -->
<path d="M530,236 C420,200 230,200 130,282 C70,340 60,420 205,476"/>
<path d="M205,355 L280,315 L420,325 L440,300 M205,355 L250,380 L350,370 L420,325 M250,380 L215,450 L210,520 C215,570 250,620 300,640 M230,465 L340,480"/>
<ellipse cx="455" cy="290" rx="40" ry="25" transform="rotate(-15 455 290)"/>
<ellipse cx="370" cy="430" rx="40" ry="25" transform="rotate(-15 370 430)"/>
<path d="M400,630 C480,620 560,590 600,560 M400,682 C480,670 570,640 620,600 M390,572 C440,570 480,540 482,500 M240,600 C260,640 280,660 300,700"/>
<path d="M580,520 C600,495 650,480 700,482 L752,620 M580,520 L636,640"/>
<path d="M540,430 L600,500 M580,400 L660,470 M600,330 C640,330 680,380 700,440 L745,600"/>
<!-- S hose -->
<path d="M-5,150 C30,160 60,152 100,148 L490,122 C545,120 575,160 578,230 C580,290 540,340 470,400 C400,460 365,520 355,600 L350,830 C355,880 390,920 480,932" style="stroke-width:8.2px;stroke-linecap:butt"/>
<path d="M-8,150 C30,160 60,152 100,148 L490,122 C545,120 575,160 578,230 C580,290 540,340 470,400 C400,460 365,520 355,600 L350,830 C355,880 390,920 486,932" style="stroke:#fff;stroke-width:5.8px;stroke-linecap:butt"/>
<path d="M42,112 C30,100 50,40 75,-5 M175,-5 L190,100 M215,-5 L225,96 M490,-5 L490,85 M610,-5 L612,150"/>
<path d="M420,-5 C440,25 580,25 610,-5"/>
<!-- cap 5 -->
<path class="w" d="M500,760 C490,700 560,640 660,630 C740,625 800,660 815,700 C830,740 820,790 790,822 C720,852 600,852 540,832 C510,812 500,790 500,760 Z"/>
<path d="M520,832 C580,872 720,872 800,832 L815,800 M520,880 L490,940 M730,872 L690,940 L640,962 L590,942"/>
<!-- vertical hose -->
<path d="M745,-5 C760,150 790,350 830,520 C850,600 880,700 935,832"/>
<path d="M838,-5 C850,150 880,330 920,480 C950,590 980,700 1005,822"/>
<path d="M790,250 C770,270 765,300 768,350 L765,480 C780,560 830,700 885,836"/>
<!-- bracket right -->
<ellipse cx="965" cy="28" rx="56" ry="36"/>
<ellipse cx="960" cy="146" rx="60" ry="50"/><ellipse cx="956" cy="132" rx="40" ry="34"/>
<ellipse cx="1006" cy="424" rx="46" ry="34"/><path d="M975,418 C978,385 1035,385 1038,418 C1025,435 990,435 975,418"/>
<path d="M1075,-5 L1105,100 L1040,205 L1040,245 L1080,292 L1085,340 L1175,490 L1168,578 L1080,522 L1075,482 L1100,460 L1150,462 M1105,100 C1130,95 1180,95 1230,100"/>
<!-- dipstick ring -->
<ellipse cx="1015" cy="662" rx="74" ry="44" transform="rotate(-32 1015 662)"/>
<ellipse cx="1012" cy="666" rx="44" ry="24" transform="rotate(-32 1012 666)"/>
<path d="M1040,712 L1056,746 M1112,680 L1230,742 M1112,730 L1230,792 M1165,706 L1150,740 M1215,735 L1200,770"/>
</svg>
<svg x="196" y="400" width="139" height="100" viewBox="105.97 0 1339.03 963.33" overflow="hidden">
<rect x="100" y="-5" width="1349" height="973" style="fill:#fff;stroke:none"/>
<path d="M775,-5 C700,80 560,150 335,202"/>
<ellipse cx="398" cy="56" rx="40" ry="25"/><path d="M372,52 C375,30 422,30 425,52 C418,64 380,64 372,52"/>
<path d="M70,131 L520,134 M100,200 L335,202 C420,225 490,290 512,368"/>
<path d="M-5,55 L28,50 L40,112 L100,232 C70,270 30,290 -5,300 M-5,132 L22,126"/>
<ellipse cx="1300" cy="0" rx="30" ry="15"/>
<path d="M1390,-5 L1400,50 L1450,92"/>
<!-- right arcs -->
<path d="M775,236 C900,190 1050,165 1165,157 M830,320 C940,288 1050,270 1132,262 M850,366 C950,342 1040,332 1112,330 M852,402 C950,392 1040,390 1100,392"/>
<path d="M800,470 C880,500 1000,490 1082,440 M800,510 C880,540 1000,530 1078,482 M800,546 C880,580 1000,572 1080,526 M800,590 C880,622 1000,612 1062,572"/>
<!-- air duct piece -->
<path d="M1165,160 L1200,108 L1320,98 C1350,90 1380,60 1400,62 L1425,85 L1380,330 C1340,370 1290,400 1275,440 L1262,520 L1310,660 L1205,690 L1185,860 L1232,870"/>
<path d="M1165,160 L1100,400 L1070,540 C1080,620 1100,680 1120,720 L1182,770"/>
<path d="M1090,548 L1195,548 M1310,660 C1320,610 1340,570 1360,555 C1390,535 1420,525 1450,520"/>
<path d="M1072,690 C1090,740 1140,780 1186,790"/>
<path d="M1240,870 C1260,800 1340,760 1450,742 M1300,790 C1340,775 1400,770 1450,775 M1350,830 C1360,880 1380,920 1412,968 M1410,830 L1422,968"/>
<path d="M1450,340 L1424,463 C1410,500 1395,525 1370,548"/>
<!-- fitting -->
<path class="w" d="M676,215 C670,170 750,165 752,212 L775,285 L790,322 L690,322 L700,285 Z"/>
<path d="M678,222 C695,245 740,242 752,220 M700,286 C720,296 760,294 775,285"/>
<!-- bracket top -->
<path d="M490,375 L490,430 C440,432 405,445 400,475 L405,530"/>
<path d="M490,375 L600,366 L700,342 C750,330 815,332 842,348 C856,372 854,412 836,440"/>
<path d="M600,366 L610,442 L700,422 M700,342 L706,440 M706,440 C720,415 770,412 790,440 M610,442 L650,480"/>
<circle cx="806" cy="432" r="26"/>
<!-- cylinder component -->
<path class="w" d="M445,478 C470,462 580,460 608,470 C625,482 628,500 628,520 L630,725 C600,745 480,745 442,745 Z"/>
<path class="w" d="M450,478 C435,480 430,490 430,505 L432,545 C434,562 444,570 460,570 C478,568 484,560 485,545 L485,505 C484,488 476,479 462,478 Z"/>
<path d="M650,480 L650,700 L628,760 M680,470 L680,600"/>
<path d="M460,745 C470,725 600,722 620,760 L615,800"/>
<path class="w" d="M385,800 C385,775 415,765 445,770 C465,755 490,755 510,768 C550,760 600,775 600,812 L595,880 C580,930 500,940 480,912 C460,940 400,930 392,890 Z"/>
<path d="M392,830 C425,855 460,850 480,822 C500,850 570,855 598,822 M480,795 L480,822"/>
<ellipse cx="437" cy="900" rx="36" ry="28"/><ellipse cx="530" cy="895" rx="40" ry="28"/>
<path d="M470,945 L470,970 M575,940 L578,970"/>
<!-- vertical hose + clamp -->
<path d="M720,440 L720,560 M770,450 L770,560 M708,640 L712,970 M778,640 L790,970"/>
<path class="w" d="M698,575 C700,555 780,552 785,575 L785,625 C780,645 700,645 698,625 Z"/>
<path d="M698,600 C720,615 765,615 785,600"/>
<!-- diagonal bracket lines -->
<path d="M-5,652 L435,545 M-5,700 L110,672 M160,700 L440,630 M140,760 L440,680 M120,790 L390,775 L400,792"/>
<path d="M195,634 L432,577" style="stroke-width:2.2px"/>
<path d="M-5,720 C20,730 35,760 20,800 M-5,870 L30,830 M180,820 L170,970 M220,830 L215,970"/>
<!-- S-hose top -->
<path d="M125,492 C150,540 155,600 145,660 C130,740 60,880 20,975" style="stroke-width:9.8px;stroke-linecap:round"/>
<path d="M125,492 C150,540 155,600 145,660 C130,740 60,880 20,985" style="stroke:#fff;stroke-width:7.4px;stroke-linecap:round"/>
<!-- bolt plate -->
<path d="M820,692 L850,662 L970,666 L995,720 L940,800 L950,850 L1020,900 L1042,970 M1070,690 L1000,800 L945,862"/>
<ellipse cx="880" cy="730" rx="60" ry="40"/><ellipse cx="884" cy="728" rx="32" ry="26"/>
<path d="M855,745 L860,705 M905,750 L912,712"/>
<ellipse cx="836" cy="802" rx="50" ry="28"/>
<ellipse cx="915" cy="932" rx="56" ry="35"/>
</svg>
<svg x="455" y="535" width="130" height="75" viewBox="0 0 1252.33 722.50" overflow="hidden">
<rect x="-5" y="-5" width="1262" height="732" style="fill:#fff;stroke:none"/>
<path d="M60,-5 L62,62 L210,95 C240,102 260,95 290,85 L335,82 L375,88"/>
<path d="M105,-5 L130,66 M165,-5 L205,90 M250,-5 L280,86 M335,-5 L375,86"/>
<path d="M375,88 C520,120 700,160 820,235 C870,270 905,310 925,352"/>
<path d="M635,-5 C780,50 900,140 960,240 L1000,322"/>
<path d="M210,95 L205,485 M335,85 L330,485"/>
<path d="M335,185 L440,120 M335,280 L500,135 M335,292 C450,295 570,270 580,150 M335,395 C500,390 660,350 680,180 M690,405 C700,330 750,270 815,235 M820,405 C840,370 880,345 915,340"/>
<path d="M335,400 L440,405 L850,405 C890,390 920,355 1000,322 L1450,322"/>
<path d="M440,405 L400,485 L385,526"/>
<path d="M60,262 C110,282 160,290 205,290 M60,382 L205,378"/>
<path d="M60,430 L95,430 L150,485 L400,485 M90,455 L90,526"/>
<path d="M60,528 L1450,528 M-5,528 L20,528 M-5,425 L20,425"/>
<path d="M-5,252 L6,254 C10,256 10,262 10,268 L10,372 C10,382 6,386 -5,388 M-5,318 L10,318"/>
<path d="M1270,-5 L1450,210 M1360,-5 L1450,102 M1410,-5 L1450,42"/>
<path d="M-5,20 L12,60"/>
</svg>
<svg x="585" y="535" width="60" height="40" viewBox="0 0 1445 963.33" overflow="hidden">
<rect x="-5" y="-5" width="1455" height="973" style="fill:#fff;stroke:none"/>
<path d="M20,-10 C100,60 260,230 400,420 L625,770 C640,795 650,805 665,812 C760,840 830,890 895,975"/>
<path d="M-5,806 L640,800"/>
<path d="M232,-10 C320,80 520,310 640,480 L820,770 C850,820 880,868 950,870 L1450,870"/>
<path d="M462,-10 C540,80 680,260 760,400 L835,535 C860,580 890,605 950,606 L1450,606"/>
<path d="M525,-5 C580,60 680,110 780,112 C880,108 990,60 1045,-5"/>
</svg>
<g id="hpipe">
<path d="M350.4,488.4 L358.8,487.4 M351.4,494.8 L358.3,494.3"/>
<path d="M364,490.3 L424.5,481.5 C428.6,481 430,478.5 430,474 L430,465" style="stroke-width:7.7px;stroke-linecap:butt"/>
<path d="M363,490.45 L424.5,481.5 C428.6,481 430,478.5 430,474 L430,464" style="stroke:#fff;stroke-width:5.3px;stroke-linecap:butt"/>
<path d="M377,480.5 L378.9,488.9 M379.4,480 L381.9,488.4 M390.7,478.1 L393.2,486.9 M393.2,477.8 L395.6,486.4 M404.5,476.1 L406.9,484.9 M407.4,475.6 L409.6,484.5"/>
<ellipse class="w" cx="364.7" cy="490.8" rx="2.9" ry="6.8" transform="rotate(-8 364.7 490.8)"/>
<ellipse class="w" cx="360.8" cy="491.3" rx="2.9" ry="7" transform="rotate(-8 360.8 491.3)"/>
<path class="w" d="M425.6,463.5 C426,460 439,459.5 440.5,462.5 C440.5,466.5 427,467.5 425.6,463.5 Z"/>
<path d="M426,465.5 C429,463 437,463 440,465"/>
</g>
<g font-family="Liberation Sans, sans-serif" font-size="13.6" fill="#222" text-anchor="middle" style="stroke:none">
<text x="206.3" y="289.8">1</text><text x="409.7" y="289.8">2</text><text x="548.7" y="289.8">3</text><text x="660.8" y="289.8">4</text>
<text x="174" y="696.7">5</text><text x="291.9" y="696.7">6</text><text x="459.3" y="696.7">7</text><text x="736.9" y="696.7">8</text>
</g>
<g class="halo">
<line x1="205.9" y1="300" x2="205.9" y2="424"/><line x1="409.1" y1="300" x2="409.1" y2="415"/><line x1="548.1" y1="300" x2="548.1" y2="392"/><line x1="660.5" y1="300" x2="660.5" y2="376"/>
<polyline points="173.6,676 173.6,567 246,567"/><line x1="291.4" y1="676" x2="291.4" y2="565"/><line x1="458.9" y1="676" x2="458.9" y2="490"/><line x1="736.4" y1="676" x2="736.4" y2="446"/>
</g>
<line class="ld" x1="205.9" y1="294.3" x2="205.9" y2="427"/><circle class="k" cx="205.9" cy="427" r="1.9"/>
<line class="ld" x1="409.1" y1="294.3" x2="409.1" y2="418"/><circle class="k" cx="409.1" cy="418.3" r="1.9"/>
<line class="ld" x1="548.1" y1="294.3" x2="548.1" y2="395"/><circle class="k" cx="548.1" cy="395" r="1.9"/>
<line class="ld" x1="660.5" y1="294.3" x2="660.5" y2="379"/><circle class="k" cx="660.4" cy="379.3" r="1.9"/>
<polyline class="ld" points="173.6,680 173.6,567 249,567"/><circle class="k" cx="249.4" cy="567" r="1.9"/>
<line class="ld" x1="291.4" y1="680" x2="291.4" y2="561.5"/><circle class="k" cx="291.4" cy="561.4" r="1.9"/>
<line class="ld" x1="458.9" y1="680" x2="458.9" y2="487"/><circle class="k" cx="458.8" cy="486.5" r="1.9"/>
<line class="ld" x1="736.4" y1="680" x2="736.4" y2="442.7"/><circle class="k" cx="736.5" cy="442.7" r="1.9"/>
</svg>
<div class="abs" id="note">• Inclusief verschillen in uitrustingsspecificaties en opties van de fabrikant.</div>
<div class="abs" id="alm">ALM101275</div>

<div class="abs" id="code">OGND25E3</div>
<div class="abs" id="ft1">Geïllustreerde inhoudsopgave</div>
<div class="abs" id="ft2">1-09</div>
</body>
</html>
